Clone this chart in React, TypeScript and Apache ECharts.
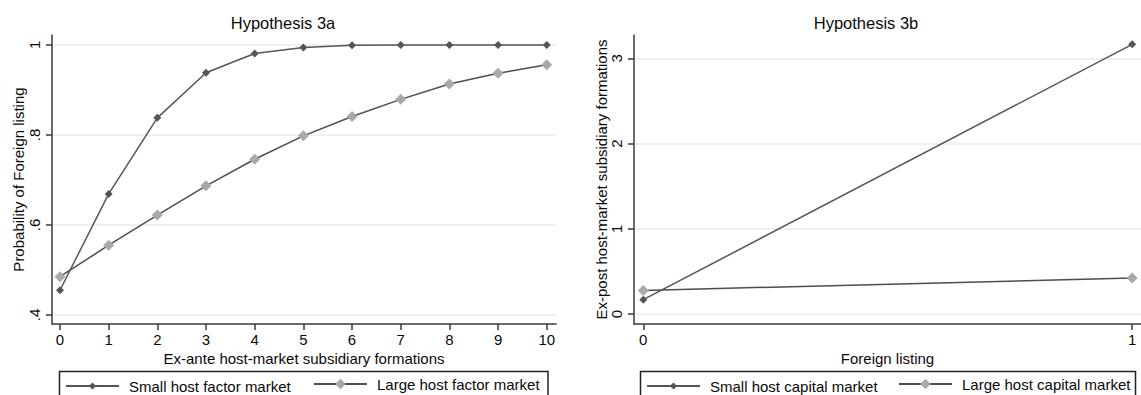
import React, { useEffect, useRef } from "react";
import * as echarts from "echarts";

// ---- data ----
const formations = [0, 1, 2, 3, 4, 5, 6, 7, 8, 9, 10];
const smallFactor = [0.455, 0.669, 0.838, 0.938, 0.981, 0.994, 0.999, 1.0, 1.0, 1.0, 1.0];
const largeFactor = [0.485, 0.555, 0.622, 0.687, 0.746, 0.798, 0.841, 0.879, 0.913, 0.937, 0.956];
const listing = [0, 1];
const smallCapital = [0.168, 3.164];
const largeCapital = [0.277, 0.422];

const leftXTicks = [0, 1, 2, 3, 4, 5, 6, 7, 8, 9, 10];
const leftYTicks = [0.4, 0.6, 0.8, 1];
const rightXTicks = [0, 1];
const rightYTicks = [0, 1, 2, 3];

const titles = ["Hypothesis 3a", "Hypothesis 3b"];
const xNames = ["Ex-ante host-market subsidiary formations", "Foreign listing"];
const yNames = ["Probability of Foreign listing", "Ex-post host-market subsidiary formations"];
const seriesNames = [
  "Small host factor market",
  "Large host factor market",
  "Small host capital market",
  "Large host capital market",
];

const FONT = "'Liberation Sans', Arial, Helvetica, sans-serif";
const TEXT = "#0a0a0a";
const AXIS_COLOR = "#3a3a3a";
const GRID_COLOR = "#ebebeb";
const SMALL_COLOR = "#555555";
const LARGE_MARK = "#a9a9a9";
const LARGE_LINE = "#4d4d4d";

const fmt = (v: number) => {
  const s = String(+Number(v).toFixed(2));
  return s.replace(/^0\./, ".");
};

function xAxis(grid: number, min: number, max: number, ticks: number[], name: string, gap: number) {
  return {
    type: "value",
    gridIndex: grid,
    min,
    max,
    name,
    nameLocation: "middle",
    nameGap: gap,
    nameMoveOverlap: false,
    nameTextStyle: { color: TEXT, fontSize: 15, fontFamily: FONT, lineHeight: 13 },
    axisLine: { show: true, onZero: false, lineStyle: { color: AXIS_COLOR, width: 1.5 } },
    axisTick: { show: true, length: 6, customValues: ticks, lineStyle: { color: AXIS_COLOR, width: 1.5 } },
    axisLabel: { customValues: ticks, color: TEXT, fontSize: 15, lineHeight: 13, fontFamily: FONT, margin: 9, formatter: fmt },
    splitLine: { show: false },
  };
}

function yAxis(grid: number, min: number, max: number, ticks: number[], name: string, gap: number) {
  return {
    type: "value",
    gridIndex: grid,
    min,
    max,
    name,
    nameLocation: "middle",
    nameRotate: 90,
    nameGap: gap,
    nameMoveOverlap: false,
    nameTextStyle: { color: TEXT, fontSize: 15, fontFamily: FONT },
    axisLine: { show: true, onZero: false, lineStyle: { color: AXIS_COLOR, width: 1.5 } },
    axisTick: { show: true, length: 6, customValues: ticks, lineStyle: { color: AXIS_COLOR, width: 1.5 } },
    axisLabel: { customValues: ticks, rotate: 90, color: TEXT, fontSize: 15, fontFamily: FONT, margin: 10, formatter: fmt },
    splitLine: { show: true, lineStyle: { color: GRID_COLOR, width: 1.5 } },
  };
}

function legend(name: string, left: number, h: number) {
  return {
    data: [name],
    left,
    top: 383 - h / 2,
    orient: "horizontal",
    padding: 0,
    itemWidth: 53,
    itemHeight: h,
    selectedMode: false,
    textStyle: { color: TEXT, fontSize: 15, fontFamily: FONT, padding: [0, 0, 0, 5] },
  };
}

function lineSeries(name: string, xi: number, xs: number[], ys: number[], size: number, mark: string, line: string, z: number) {
  return {
    type: "line",
    name,
    xAxisIndex: xi,
    yAxisIndex: xi,
    data: xs.map((x, i) => [x, ys[i]]),
    symbol: "diamond",
    symbolSize: size,
    showSymbol: true,
    lineStyle: { color: line, width: 1.5 },
    itemStyle: { color: mark },
    z,
  };
}

export default function App() {
  const ref = useRef<HTMLDivElement>(null);
  useEffect(() => {
    if (!ref.current) return;
    const chart = echarts.init(ref.current, null, { renderer: "svg" });
    chart.setOption({
      animation: false,
      backgroundColor: "#ffffff",
      grid: [
        { left: 52, top: 35, width: 504, height: 289 },
        { left: 634, top: 35, width: 507, height: 289 },
      ],
      xAxis: [
        xAxis(0, -0.164, 10.19, leftXTicks, xNames[0], 28),
        xAxis(1, -0.019, 1.018, rightXTicks, xNames[1], 28),
      ],
      yAxis: [
        yAxis(0, 0.38, 1.022, leftYTicks, yNames[0], 26),
        yAxis(1, -0.117, 3.273, rightYTicks, yNames[1], 25),
      ],
      legend: [
        legend(seriesNames[0], 65, 9),
        legend(seriesNames[1], 313, 13),
        legend(seriesNames[2], 646, 9),
        legend(seriesNames[3], 898, 13),
      ],
      graphic: [
        {
          type: "text",
          x: 283,
          y: 23,
          style: { text: titles[0], fill: TEXT, fontSize: 16.5, fontFamily: FONT, textAlign: "center", textVerticalAlign: "middle" },
        },
        {
          type: "text",
          x: 866,
          y: 23,
          style: { text: titles[1], fill: TEXT, fontSize: 16.5, fontFamily: FONT, textAlign: "center", textVerticalAlign: "middle" },
        },
        {
          type: "rect",
          shape: { x: 59.5, y: 371.5, width: 488.5, height: 40 },
          style: { fill: "none", stroke: "#222", lineWidth: 1.5 },
          z: -1,
        },
        {
          type: "rect",
          shape: { x: 640.5, y: 371.5, width: 495, height: 40 },
          style: { fill: "none", stroke: "#222", lineWidth: 1.5 },
          z: -1,
        },
      ],
      series: [
        lineSeries(seriesNames[1], 0, formations, largeFactor, 11, LARGE_MARK, LARGE_LINE, 2),
        lineSeries(seriesNames[0], 0, formations, smallFactor, 8, SMALL_COLOR, SMALL_COLOR, 3),
        lineSeries(seriesNames[3], 1, listing, largeCapital, 11, LARGE_MARK, LARGE_LINE, 2),
        lineSeries(seriesNames[2], 1, listing, smallCapital, 8, SMALL_COLOR, SMALL_COLOR, 3),
      ],
    });
    return () => chart.dispose();
  }, []);
  return (
    <div
      ref={ref}
      style={{ position: "absolute", left: 0, top: 0, width: 1141, height: 395 }}
    />
  );
}
